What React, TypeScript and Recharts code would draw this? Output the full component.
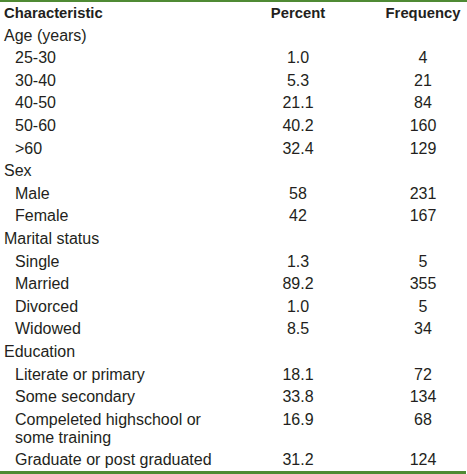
import { Surface, Layer, Text, Rectangle } from "recharts";

const W = 467;
const H = 474;

const HEADERS = ["Characteristic", "Percent", "Frequency"];
const GROUPS = ["Age (years)", "Sex", "Marital status", "Education"];

const AGE = ["25-30", "30-40", "40-50", "50-60", ">60"];
const AGE_PCT = ["1.0", "5.3", "21.1", "40.2", "32.4"];
const AGE_FREQ = ["4", "21", "84", "160", "129"];

const SEX = ["Male", "Female"];
const SEX_PCT = ["58", "42"];
const SEX_FREQ = ["231", "167"];

const MARITAL = ["Single", "Married", "Divorced", "Widowed"];
const MARITAL_PCT = ["1.3", "89.2", "1.0", "8.5"];
const MARITAL_FREQ = ["5", "355", "5", "34"];

const EDU = [
  "Literate or primary",
  "Some secondary",
  "Compeleted highschool or some training",
  "Graduate or post graduated",
];
const EDU_PCT = ["18.1", "33.8", "16.9", "31.2"];
const EDU_FREQ = ["72", "134", "68", "124"];

const SECTIONS = [
  { labels: AGE, pct: AGE_PCT, freq: AGE_FREQ },
  { labels: SEX, pct: SEX_PCT, freq: SEX_FREQ },
  { labels: MARITAL, pct: MARITAL_PCT, freq: MARITAL_FREQ },
  { labels: EDU, pct: EDU_PCT, freq: EDU_FREQ },
];

const TEXT = "#231f20";
const RULE = "#4f8a34";
const FONT = "'Liberation Sans', Arial, sans-serif";

// layout
const COL_X = [4, 298, 423];
const INDENT = 15;
const ROW = 22.6;
const LINE = 18;
const LABEL_W = 205;
const MAX_CHARS = 30;

type Row = { label: string; pct?: string; freq?: string; group: boolean; y: number; lines: number };

function buildRows(): Row[] {
  const rows: Row[] = [];
  let y = 35;
  GROUPS.forEach((g, gi) => {
    rows.push({ label: g, group: true, y, lines: 1 });
    y += ROW;
    const s = SECTIONS[gi];
    s.labels.forEach((label, i) => {
      const lines = label.length > MAX_CHARS ? 2 : 1;
      rows.push({ label, pct: s.pct[i], freq: s.freq[i], group: false, y, lines });
      y += ROW + (lines - 1) * LINE;
    });
  });
  return rows;
}

export default function App() {
  const rows = buildRows();
  const textProps = { fill: TEXT, fontFamily: FONT, fontSize: 16 };

  return (
    <div style={{ width: W, height: H, background: "#fff" }}>
      <style>{"body{margin:0;background:#fff}"}</style>
      <Surface width={W} height={H}>
        <Rectangle x={0} y={0} width={W} height={2} fill={RULE} />
        <Layer>
          {HEADERS.map((h, i) => (
            <Text
              key={h}
              x={COL_X[i]}
              y={13}
              textAnchor={i === 0 ? "start" : "middle"}
              verticalAnchor="middle"
              fill={TEXT}
              fontFamily={FONT}
              fontSize={14.8}
              fontWeight="bold"
            >
              {h}
            </Text>
          ))}
        </Layer>
        <Layer>
          {rows.map((r, i) => (
            <g key={i}>
              <Text
                {...textProps}
                x={r.group ? COL_X[0] : INDENT}
                y={r.y - 5.8}
                width={LABEL_W}
                lineHeight={LINE}
                verticalAnchor="start"
              >
                {r.label}
              </Text>
              {r.pct && (
                <Text {...textProps} x={COL_X[1]} y={r.y} textAnchor="middle" verticalAnchor="middle">
                  {r.pct}
                </Text>
              )}
              {r.freq && (
                <Text {...textProps} x={COL_X[2]} y={r.y} textAnchor="middle" verticalAnchor="middle">
                  {r.freq}
                </Text>
              )}
            </g>
          ))}
        </Layer>
        <Rectangle x={0} y={471} width={W - 1} height={3} fill={RULE} />
      </Surface>
    </div>
  );
}
